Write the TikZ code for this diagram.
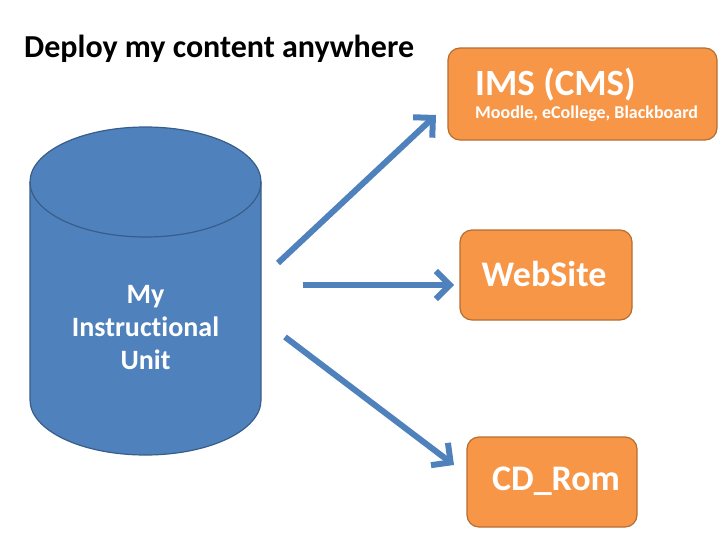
\documentclass[tikz,border=0pt]{standalone}
\usepackage{fontspec}
\setmainfont{Carlito}[Ligatures={NoCommon}]
\usetikzlibrary{arrows.meta}
\definecolor{cylblue}{HTML}{4F81BD}
\definecolor{cylline}{HTML}{385D8A}
\definecolor{boxor}{HTML}{F79646}
\definecolor{boxline}{HTML}{B66D31}
\tikzset{
  obox/.style={draw=boxline, line width=1.2pt, fill=boxor, rounded corners=12pt, inner sep=0pt},
  wtext/.style={text=white, font=\bfseries},
  bigarrow/.style={draw=cylblue, line width=6pt, -{Straight Barb[length=14pt,width=28pt]}},
}
\begin{document}
\begin{tikzpicture}[x=1pt,y=-1pt]
\useasboundingbox (0,0) rectangle (728,546);
% title
\node[anchor=base west, inner sep=0pt, font=\bfseries\fontsize{32}{36}\selectfont] (title) at (24,57) {Deploy my content anywhere};
% cylinder
\draw[draw=cylline, line width=1.2pt, fill=cylblue]
  (30,182) -- (30,400) arc[start angle=180, end angle=0, x radius=115.5, y radius=55] -- (261,182)
  arc[start angle=0, end angle=-180, x radius=115.5, y radius=55] -- cycle;
\draw[draw=cylline, line width=1.2pt] (30,182) arc[start angle=180, end angle=0, x radius=115.5, y radius=55];
\node[wtext, align=center, font=\bfseries\fontsize{28}{33}\selectfont] (unit) at (145.5,328) {My\\Instructional\\Unit};
% boxes
\node[obox, minimum width=269pt, minimum height=92pt] (ims) at (582.5,94) {};
\node[wtext, anchor=base west, inner sep=0pt, font=\bfseries\fontsize{37}{40}\selectfont] (imst) at (475,95) {IMS (CMS)};
\node[wtext, anchor=base west, inner sep=0pt, font=\bfseries\fontsize{18}{20}\selectfont] (imss) at (475,118) {Moodle, eCollege, Blackboard};
\node[obox, minimum width=172pt, minimum height=90pt] (web) at (546,275) {};
\node[wtext, font=\bfseries\fontsize{36}{40}\selectfont] (webt) at (544,274) {WebSite};
\node[obox, minimum width=170pt, minimum height=90pt] (cd) at (552,482) {};
\node[wtext, font=\bfseries\fontsize{36}{40}\selectfont] (cdt) at (556,481) {CD\_Rom};
% arrows
\coordinate (s1) at (278,263);
\coordinate (e1) at (436,115);
\coordinate (s2) at (303,285);
\coordinate (e2) at (454,285);
\coordinate (s3) at (285,337);
\coordinate (e3) at (454,465);
\draw[bigarrow] (s1) -- (e1);
\draw[bigarrow] (s2) -- (e2);
\draw[bigarrow] (s3) -- (e3);
\end{tikzpicture}
\end{document}
